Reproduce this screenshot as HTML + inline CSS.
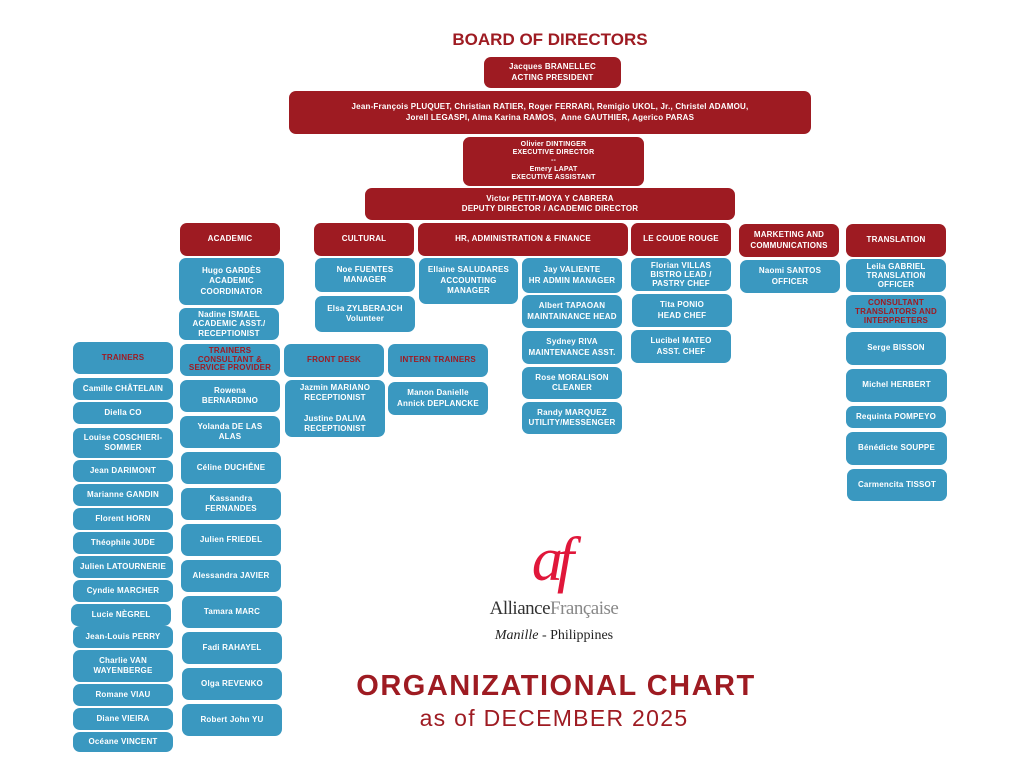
<!DOCTYPE html>
<html><head><meta charset="utf-8"><style>
body{margin:0;width:1024px;height:768px;background:#fff;position:relative;overflow:hidden;font-family:"Liberation Sans",sans-serif}
.b{position:absolute;display:flex;align-items:center;justify-content:center;text-align:center;color:#fff;font-weight:bold;font-size:8px;line-height:1.3;border-radius:7px;box-sizing:border-box;padding:0 2px;letter-spacing:0.2px}
.r{background:#9e1b22}
.u{background:#3a98c0}
.rt{color:#9e1b22}
.t{position:absolute;color:#9e1b22;font-weight:bold;text-align:center}
</style></head><body>
<div class="t" style="left:400px;top:30px;width:300px;font-size:17px">BOARD OF DIRECTORS</div>
<div class="b r" style="left:484px;top:57px;width:137px;height:31px">Jacques BRANELLEC<br>ACTING PRESIDENT</div>
<div class="b r" style="left:289px;top:91px;width:522px;height:43px">Jean-François PLUQUET, Christian RATIER, Roger FERRARI, Remigio UKOL, Jr., Christel ADAMOU,<br>Jorell LEGASPI, Alma Karina RAMOS,&nbsp; Anne GAUTHIER, Agerico PARAS</div>
<div class="b r" style="left:463px;top:137px;width:181px;height:49px;font-size:7px;line-height:1.2">Olivier DINTINGER<br>EXECUTIVE DIRECTOR<br>--<br>Emery LAPAT<br>EXECUTIVE ASSISTANT</div>
<div class="b r" style="left:365px;top:188px;width:370px;height:32px">Victor PETIT-MOYA Y CABRERA<br>DEPUTY DIRECTOR / ACADEMIC DIRECTOR</div>

<div class="b r" style="left:180px;top:223px;width:100px;height:33px">ACADEMIC</div>
<div class="b r" style="left:314px;top:223px;width:100px;height:33px">CULTURAL</div>
<div class="b r" style="left:418px;top:223px;width:210px;height:33px">HR, ADMINISTRATION &amp; FINANCE</div>
<div class="b r" style="left:631px;top:223px;width:100px;height:33px">LE COUDE ROUGE</div>
<div class="b r" style="left:739px;top:224px;width:100px;height:33px">MARKETING AND<br>COMMUNICATIONS</div>
<div class="b r" style="left:846px;top:224px;width:100px;height:33px">TRANSLATION</div>

<div class="b u" style="left:179px;top:258px;width:105px;height:47px">Hugo GARDÈS<br>ACADEMIC<br>COORDINATOR</div>
<div class="b u" style="left:179px;top:308px;width:100px;height:32px;line-height:1.15">Nadine ISMAEL<br>ACADEMIC ASST./<br>RECEPTIONIST</div>
<div class="b u rt" style="left:180px;top:344px;width:100px;height:32px;line-height:1.1">TRAINERS<br>CONSULTANT &amp;<br>SERVICE PROVIDER</div>
<div class="b u" style="left:180px;top:380px;width:100px;height:32px">Rowena<br>BERNARDINO</div>
<div class="b u" style="left:180px;top:416px;width:100px;height:32px">Yolanda DE LAS<br>ALAS</div>
<div class="b u" style="left:181px;top:452px;width:100px;height:32px">Céline DUCHÊNE</div>
<div class="b u" style="left:181px;top:488px;width:100px;height:32px">Kassandra<br>FERNANDES</div>
<div class="b u" style="left:181px;top:524px;width:100px;height:32px">Julien FRIEDEL</div>
<div class="b u" style="left:181px;top:560px;width:100px;height:32px">Alessandra JAVIER</div>
<div class="b u" style="left:182px;top:596px;width:100px;height:32px">Tamara MARC</div>
<div class="b u" style="left:182px;top:632px;width:100px;height:32px">Fadi RAHAYEL</div>
<div class="b u" style="left:182px;top:668px;width:100px;height:32px">Olga REVENKO</div>
<div class="b u" style="left:182px;top:704px;width:100px;height:32px">Robert John YU</div>

<div class="b u rt" style="left:73px;top:342px;width:100px;height:32px">TRAINERS</div>
<div class="b u" style="left:73px;top:378px;width:100px;height:22px">Camille CHÂTELAIN</div>
<div class="b u" style="left:73px;top:402px;width:100px;height:22px">Diella CO</div>
<div class="b u" style="left:73px;top:428px;width:100px;height:30px">Louise COSCHIERI-<br>SOMMER</div>
<div class="b u" style="left:73px;top:460px;width:100px;height:22px">Jean DARIMONT</div>
<div class="b u" style="left:73px;top:484px;width:100px;height:22px">Marianne GANDIN</div>
<div class="b u" style="left:73px;top:508px;width:100px;height:22px">Florent HORN</div>
<div class="b u" style="left:73px;top:532px;width:100px;height:22px">Théophile JUDE</div>
<div class="b u" style="left:73px;top:556px;width:100px;height:22px">Julien LATOURNERIE</div>
<div class="b u" style="left:73px;top:580px;width:100px;height:22px">Cyndie MARCHER</div>
<div class="b u" style="left:71px;top:604px;width:100px;height:22px">Lucie NÈGREL</div>
<div class="b u" style="left:73px;top:626px;width:100px;height:22px">Jean-Louis PERRY</div>
<div class="b u" style="left:73px;top:650px;width:100px;height:32px">Charlie VAN<br>WAYENBERGE</div>
<div class="b u" style="left:73px;top:684px;width:100px;height:22px">Romane VIAU</div>
<div class="b u" style="left:73px;top:708px;width:100px;height:22px">Diane VIEIRA</div>
<div class="b u" style="left:73px;top:732px;width:100px;height:20px">Océane VINCENT</div>

<div class="b u" style="left:315px;top:258px;width:100px;height:34px">Noe FUENTES<br>MANAGER</div>
<div class="b u" style="left:315px;top:296px;width:100px;height:36px">Elsa ZYLBERAJCH<br>Volunteer</div>
<div class="b u rt" style="left:284px;top:344px;width:100px;height:33px">FRONT DESK</div>
<div class="b u" style="left:285px;top:380px;width:100px;height:57px;line-height:1.3">Jazmin MARIANO<br>RECEPTIONIST<br><br>Justine DALIVA<br>RECEPTIONIST</div>
<div class="b u rt" style="left:388px;top:344px;width:100px;height:33px">INTERN TRAINERS</div>
<div class="b u" style="left:388px;top:382px;width:100px;height:33px">Manon Danielle<br>Annick DEPLANCKE</div>

<div class="b u" style="left:419px;top:258px;width:99px;height:46px">Ellaine SALUDARES<br>ACCOUNTING<br>MANAGER</div>
<div class="b u" style="left:522px;top:258px;width:100px;height:35px">Jay VALIENTE<br>HR ADMIN MANAGER</div>
<div class="b u" style="left:522px;top:295px;width:100px;height:33px">Albert TAPAOAN<br>MAINTAINANCE HEAD</div>
<div class="b u" style="left:522px;top:331px;width:100px;height:33px">Sydney RIVA<br>MAINTENANCE ASST.</div>
<div class="b u" style="left:522px;top:367px;width:100px;height:32px">Rose MORALISON<br>CLEANER</div>
<div class="b u" style="left:522px;top:402px;width:100px;height:32px">Randy MARQUEZ<br>UTILITY/MESSENGER</div>

<div class="b u" style="left:631px;top:258px;width:100px;height:33px;line-height:1.15">Florian VILLAS<br>BISTRO LEAD /<br>PASTRY CHEF</div>
<div class="b u" style="left:632px;top:294px;width:100px;height:33px">Tita PONIO<br>HEAD CHEF</div>
<div class="b u" style="left:631px;top:330px;width:100px;height:33px">Lucibel MATEO<br>ASST. CHEF</div>

<div class="b u" style="left:740px;top:260px;width:100px;height:33px">Naomi SANTOS<br>OFFICER</div>

<div class="b u" style="left:846px;top:259px;width:100px;height:33px;line-height:1.15">Leila GABRIEL<br>TRANSLATION<br>OFFICER</div>
<div class="b u rt" style="left:846px;top:295px;width:100px;height:33px;line-height:1.15">CONSULTANT<br>TRANSLATORS AND<br>INTERPRETERS</div>
<div class="b u" style="left:846px;top:332px;width:100px;height:33px">Serge BISSON</div>
<div class="b u" style="left:846px;top:369px;width:101px;height:33px">Michel HERBERT</div>
<div class="b u" style="left:846px;top:406px;width:100px;height:22px">Requinta POMPEYO</div>
<div class="b u" style="left:846px;top:432px;width:101px;height:33px">Bénédicte SOUPPE</div>
<div class="b u" style="left:847px;top:469px;width:100px;height:32px">Carmencita TISSOT</div>

<div style="position:absolute;left:500px;top:525px;width:100px;text-align:center;font-family:'Liberation Serif',serif;font-style:italic;font-size:62px;color:#e0173a;line-height:70px;letter-spacing:-6px">af</div>
<div style="position:absolute;left:460px;top:598px;width:188px;text-align:center;font-family:'Liberation Serif',serif;font-size:19px;color:#333;letter-spacing:-0.5px">Alliance<span style="color:#888">Française</span></div>
<div style="position:absolute;left:460px;top:628px;width:188px;text-align:center;font-family:'Liberation Serif',serif;font-size:14px;color:#222"><i>Manille</i> - Philippines</div>
<div class="t" style="left:290px;top:670px;width:532px;font-size:29px;letter-spacing:1.5px">ORGANIZATIONAL CHART</div>
<div class="t" style="left:300px;top:705px;width:508px;font-size:23px;font-weight:normal;letter-spacing:1.3px">as of DECEMBER 2025</div>
</body></html>
